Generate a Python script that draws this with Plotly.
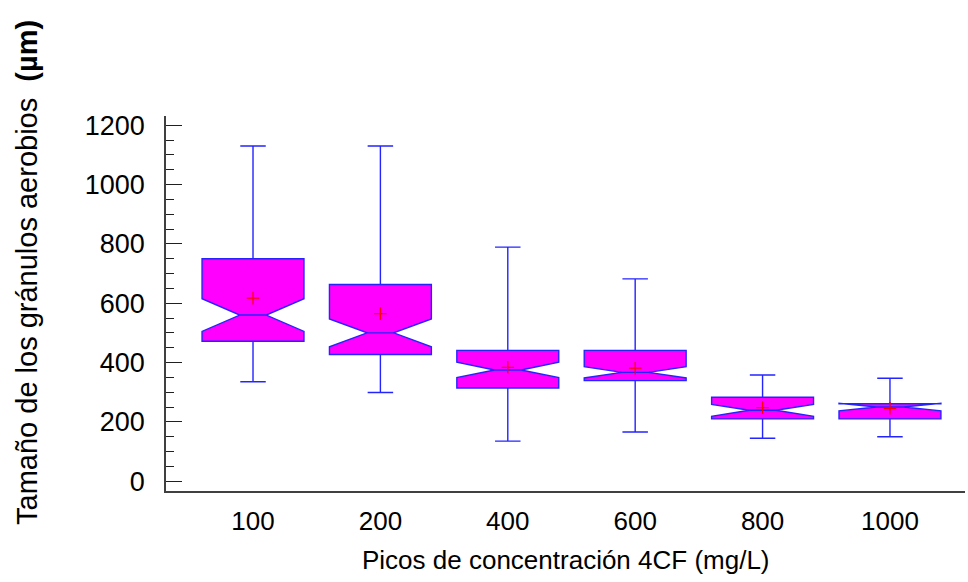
import plotly.graph_objects as go

categories = ["100", "200", "400", "600", "800", "1000"]
q1 = [472, 427, 314, 339, 210, 210]
median = [560, 500, 375, 367, 239, 250]
q3 = [750, 663, 441, 441, 283, 261]
lower_fence = [335, 299, 135, 166, 145, 150]
upper_fence = [1130, 1130, 789, 682, 358, 347]
means = [617, 565, 384, 381, 248, 246]
notch_span = [55, 47, 26, 19, 20, 13]

y_ticks = [0, 200, 400, 600, 800, 1000, 1200]

FONT = "Liberation Sans, Arial, sans-serif"

fig = go.Figure()
fig.add_trace(go.Box(
    x=categories, q1=q1, median=median, q3=q3,
    lowerfence=lower_fence, upperfence=upper_fence,
    notched=True, notchspan=notch_span, notchwidth=0.37,
    whiskerwidth=0.25,
    fillcolor="#FF00FF",
    line=dict(color="#2424ff", width=1.4),
    boxpoints=False, showlegend=False, hoverinfo="skip",
))
fig.add_trace(go.Scatter(
    x=categories, y=means, mode="markers",
    marker=dict(symbol="cross-thin", size=9, line=dict(color="#FF0000", width=1.3)),
    showlegend=False, hoverinfo="skip",
))

fig.update_layout(
    width=968, height=582,
    margin=dict(l=166, r=3, t=116, b=91),
    plot_bgcolor="white", paper_bgcolor="white",
    boxgap=0.2, boxgroupgap=0,
    font=dict(family=FONT, size=26, color="black"),
    xaxis=dict(
        type="category", range=[-0.683, 5.589],
        showline=True, linecolor="#404040", linewidth=1.5,
        ticks="", showgrid=False, zeroline=False,
        tickfont=dict(size=26), ticklabelstandoff=6,
    ),
    yaxis=dict(
        range=[-33, 1231], tickvals=y_ticks,
        showline=True, linecolor="#404040", linewidth=1.5,
        ticks="inside", ticklen=16, tickcolor="#202020", tickwidth=1.2,
        minor=dict(dtick=50, ticks="inside", ticklen=8, tickcolor="#202020", tickwidth=1.2),
        showgrid=False, zeroline=False,
        tickfont=dict(size=27), ticklabelstandoff=14,
    ),
    annotations=[
        dict(text="Picos de concentración 4CF (mg/L)", xref="paper", yref="paper",
             x=0.5, y=-0.185, xanchor="center", yanchor="middle", showarrow=False,
             font=dict(size=26)),
        dict(text="Tamaño de los gránulos aerobios\u00a0\u00a0<b>(µm)</b>", xref="paper", yref="paper",
             x=-0.174, y=0.584, xanchor="center", yanchor="middle", textangle=-90,
             showarrow=False, font=dict(size=29)),
    ],
)

fig.write_html("out.html")
